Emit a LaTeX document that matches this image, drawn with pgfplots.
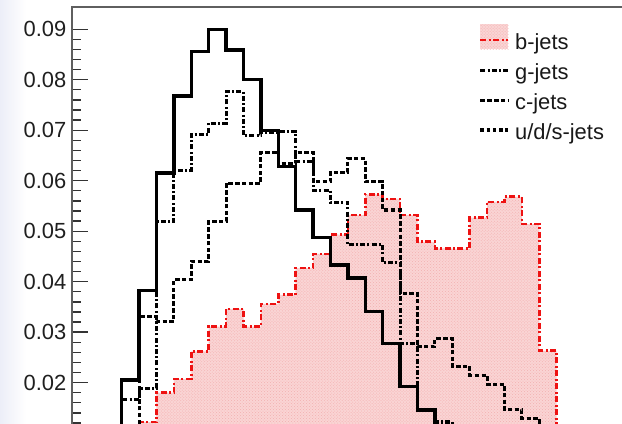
\documentclass[border=0pt]{standalone}
\usepackage{fontspec}
\setmainfont{Liberation Sans}
\usepackage{pgfplots}
\pgfplotsset{compat=1.18}
\usetikzlibrary{patterns}

\definecolor{bfill}{RGB}{250,212,212}
\definecolor{bdots}{RGB}{242,176,176}
\definecolor{bline}{RGB}{238,18,18}
\definecolor{framegray}{RGB}{95,95,95}
\definecolor{margin}{RGB}{236,238,248}

\newcommand{\labelfont}{\fontsize{22}{26}\selectfont}

\begin{document}
\begin{tikzpicture}[x=1bp,y=1bp]
\useasboundingbox (0,0) rectangle (622,423);
\clip (0,0) rectangle (622,423);
\fill[left color=margin, right color=white] (0,0) rectangle (26,423);
\begin{axis}[
  at={(72bp,-60.6bp)}, anchor=south west,
  scale only axis, width=571.7bp, height=476.6bp,
  xmin=-2.856, xmax=30, ymin=0, ymax=0.0944,
  axis line style={draw=framegray, line width=1.8bp},
  xtick=\empty,
  ytick={0,0.01,0.02,0.03,0.04,0.05,0.06,0.07,0.08,0.09},
  minor y tick num=4,
  ytick pos=left, tick align=inside,
  major tick length=16bp, minor tick length=9bp,
  tick style={draw=black!80, line width=1.3bp},
  scaled y ticks=false,
  yticklabel style={font=\labelfont, text=black!88, inner sep=0pt, xshift=-5.5bp,
    /pgf/number format/fixed, /pgf/number format/fixed zerofill,
    /pgf/number format/precision=2, /pgf/number format/assume math mode=true},
  legend style={at={(axis cs:20.5,0.09105)}, anchor=north west, draw=none, fill=none,
    inner sep=0pt, row sep=9bp,
    nodes={inner sep=0pt, text height=16bp, text depth=5bp, font=\labelfont, text=black!90}},
  legend cell align=left,
]
% b-jets: shaded area, light fill with a fine dot texture on top
\addplot[const plot, draw=none, fill=bfill, forget plot] coordinates {
  (-3,0) (-2,0.0010) (-1,0.0040) (0,0.0080) (1,0.0122) (2,0.0180) (3,0.0207)
  (4,0.0262) (5,0.0311) (6,0.0346) (7,0.0311) (8,0.0356) (9,0.0374) (10,0.0427)
  (11,0.0455) (12,0.0493) (13,0.0532) (14,0.0573) (15,0.0564) (16,0.0532)
  (17,0.0479) (18,0.0466) (19,0.0465) (20,0.0527) (21,0.0558) (22,0.0568)
  (23,0.0514) (24,0.0263) (25,0)
} \closedcycle;
\addplot[const plot, draw=none, pattern=crosshatch dots, pattern color=bdots, forget plot] coordinates {
  (-3,0) (-2,0.0010) (-1,0.0040) (0,0.0080) (1,0.0122) (2,0.0180) (3,0.0207)
  (4,0.0262) (5,0.0311) (6,0.0346) (7,0.0311) (8,0.0356) (9,0.0374) (10,0.0427)
  (11,0.0455) (12,0.0493) (13,0.0532) (14,0.0573) (15,0.0564) (16,0.0532)
  (17,0.0479) (18,0.0466) (19,0.0465) (20,0.0527) (21,0.0558) (22,0.0568)
  (23,0.0514) (24,0.0263) (25,0)
} \closedcycle;
% b-jets: outline
\addplot[const plot, draw=bline, line width=2.7bp,
  dash pattern=on 6bp off 2.5bp on 2bp off 2.5bp,
  legend image code/.code={
    \fill[draw=none, fill=bfill] (0bp,-5bp) rectangle (28bp,20bp);
    \fill[draw=none, pattern=crosshatch dots, pattern color=bdots] (0bp,-5bp) rectangle (28bp,20bp);
    \draw (0bp,4bp) -- (28bp,4bp);
    \path (33bp,0bp);}] coordinates {
  (-3,0) (-2,0.0010) (-1,0.0040) (0,0.0080) (1,0.0122) (2,0.0180) (3,0.0207)
  (4,0.0262) (5,0.0311) (6,0.0346) (7,0.0311) (8,0.0356) (9,0.0374) (10,0.0427)
  (11,0.0455) (12,0.0493) (13,0.0532) (14,0.0573) (15,0.0564) (16,0.0532)
  (17,0.0479) (18,0.0466) (19,0.0465) (20,0.0527) (21,0.0558) (22,0.0568)
  (23,0.0514) (24,0.0263) (25,0)
};
\addlegendentry{b-jets}
% g-jets
\addplot[const plot, draw=black, line width=3.1bp,
  dash pattern=on 5bp off 2.2bp on 2bp off 2.2bp,
  legend image code/.code={
    \draw (0bp,4bp) -- (28bp,4bp);
    \path (33bp,0bp);}] coordinates {
  (-3,0) (-2,0.0020) (-1,0.0080) (0,0.0166) (1,0.0189) (2,0.0519) (3,0.0621)
  (4,0.0692) (5,0.0714) (6,0.0776) (7,0.0689) (8,0.0695) (9,0.0697) (10,0.0638)
  (11,0.0581) (12,0.0557) (13,0.0473) (14,0.0473) (15,0.0438) (16,0.0278)
  (17,0.0147) (18,0.0122) (19,0.0080) (20,0.0060) (21,0.0040) (22,0.0030)
  (23,0.0020) (24,0.0010) (25,0.0005) (26,0)
};
\addlegendentry{g-jets}
% c-jets
\addplot[const plot, draw=black, line width=3.1bp,
  dash pattern=on 4.5bp off 2.3bp,
  legend image code/.code={
    \draw (0bp,4bp) -- (28bp,4bp);
    \path (33bp,0bp);}] coordinates {
  (-3,0) (-2,0.0010) (-1,0.0040) (0,0.0105) (1,0.0331) (2,0.0321) (3,0.0404)
  (4,0.0440) (5,0.0519) (6,0.0595) (7,0.0595) (8,0.0656) (9,0.0634) (10,0.0656)
  (11,0.0598) (12,0.0617) (13,0.0644) (14,0.0598) (15,0.0542) (16,0.0377)
  (17,0.0271) (18,0.0287) (19,0.0232) (20,0.0215) (21,0.0197) (22,0.0146)
  (23,0.0129) (24,0.0095) (25,0.0070) (26,0.0050) (27,0.0030) (28,0.0020) (29,0)
};
\addlegendentry{c-jets}
% u/d/s-jets
\addplot[const plot, draw=black, line width=3.3bp,
  legend image code/.code={
    \draw[line width=3.6bp, dash pattern=on 3.6bp off 2.6bp] (0bp,4bp) -- (28bp,4bp);
    \path (33bp,0bp);}] coordinates {
  (-3,0) (-2,0.0015) (-1,0.0060) (0,0.0205) (1,0.0382) (2,0.0615) (3,0.0768)
  (4,0.0856) (5,0.0900) (6,0.0859) (7,0.0800) (8,0.0700) (9,0.0628) (10,0.0542)
  (11,0.0488) (12,0.0433) (13,0.0407) (14,0.0341) (15,0.0278) (16,0.0192)
  (17,0.0146) (18,0.0105) (19,0.0072) (20,0.0050) (21,0.0034) (22,0.0022)
  (23,0.0014) (24,0.0008) (25,0.0004) (26,0)
};
\addlegendentry{u/d/s-jets}
\end{axis}
\end{tikzpicture}
\end{document}
